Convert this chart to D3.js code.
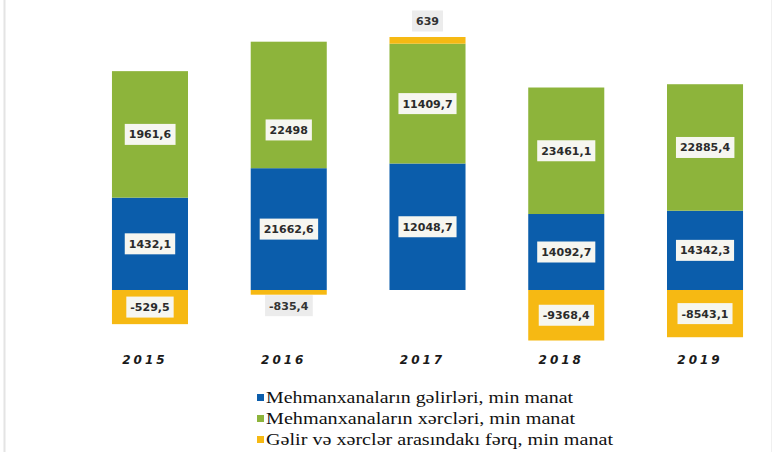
<!DOCTYPE html>
<html><head><meta charset="utf-8">
<script src="https://cdn.jsdelivr.net/npm/d3@7"></script>
<style>body{margin:0;background:#fff}svg{display:block}</style>
</head><body><svg id="c" width="777" height="452"></svg>
<script>
const years = ["2015","2016","2017","2018","2019"];
const income = [1432.1, 21662.6, 12048.7, 14092.7, 14342.3];
const expense = [1961.6, 22498, 11409.7, 23461.1, 22885.4];
const diff = [-529.5, -835.4, 639, -9368.4, -8543.1];
const valueLabels = {
  income: ["1432,1","21662,6","12048,7","14092,7","14342,3"],
  expense: ["1961,6","22498","11409,7","23461,1","22885,4"],
  diff: ["-529,5","-835,4","639","-9368,4","-8543,1"]
};
const seriesNames = ["Mehmanxanaların gəlirləri,  min manat","Mehmanxanaların xərcləri, min manat","Gəlir və xərclər arasındakı fərq, min manat"];
const keys = ["income","expense","diff"];

const colors = {income:"#0b5dab", expense:"#8db43b", diff:"#f6b913"};

const svg = d3.select("#c");
svg.append("line").attr("x1",4.5).attr("x2",4.5).attr("y1",0).attr("y2",452).attr("stroke","#e4e4e4").attr("stroke-width",2);
svg.append("line").attr("x1",771.5).attr("x2",771.5).attr("y1",0).attr("y2",452).attr("stroke","#f0f0f0").attr("stroke-width",1);

const rows = years.map((y,i)=>{
  const tot = Math.abs(income[i])+Math.abs(expense[i])+Math.abs(diff[i]);
  return {year:y, income:income[i]/tot, expense:expense[i]/tot, diff:diff[i]/tot, i};
});
const stack = d3.stack().keys(keys).offset(d3.stackOffsetDiverging)(rows);

const x = d3.scaleBand().domain(years).range([80.6,774.4]).paddingInner(0.452).paddingOuter(0.226);
const y = d3.scaleLinear().domain([0,1]).range([290,37]);

stack.forEach(s=>{
  svg.append("g").selectAll("rect").data(s).join("rect")
    .attr("x",d=>x(d.data.year)).attr("width",x.bandwidth())
    .attr("y",d=>y(Math.max(d[0],d[1]))).attr("height",d=>Math.abs(y(d[0])-y(d[1])))
    .attr("fill",colors[s.key]);
});

// labels
const nudge = {"expense-1":25};
const lab = svg.append("g");
stack.forEach(s=>{
  s.forEach((d,i)=>{
    const cx = x(d.data.year)+x.bandwidth()/2;
    let cy = (y(d[0])+y(d[1]))/2 + (nudge[s.key+"-"+i]||0);
    let boxFill = "#f6f6f0", weight="bold", tcol="#2b2b2b";
    const h = Math.abs(y(d[0])-y(d[1]));
    if (s.key==="diff" && h<15){
      boxFill="#ececec"; tcol="#333";
      if (d[1]>0) cy = y(Math.max(d[0],d[1])) - 16; else cy = y(Math.min(d[0],d[1])) + 11;
    }
    const g = lab.append("g");
    const t = g.append("text").attr("x",cx).attr("y",cy).attr("dy","0.36em")
      .attr("text-anchor","middle").attr("font-family","DejaVu Sans").attr("font-size",11)
      .attr("font-weight",weight).attr("fill",tcol).text(valueLabels[s.key][i]);
    const bb = t.node().getBBox();
    g.insert("rect","text").attr("x",bb.x-4).attr("y",cy-10.5).attr("width",bb.width+8).attr("height",21).attr("fill",boxFill);
  });
});

// x axis labels
svg.append("g").selectAll("text").data(years).join("text")
  .attr("x",d=>x(d)+x.bandwidth()/2-5).attr("y",364)
  .attr("text-anchor","middle").attr("font-family","DejaVu Sans").attr("font-size",12)
  .attr("font-weight","bold").attr("font-style","italic").attr("letter-spacing",3).attr("fill","#1a1a1a").text(d=>d);

// legend
const legY = [398,419,440];
const legW = [307,309,347];
keys.forEach((k,i)=>{
  svg.append("rect").attr("x",257).attr("y",legY[i]-4).attr("width",7).attr("height",7).attr("fill",colors[k]);
  svg.append("text").attr("x",266).attr("y",legY[i]+5).style("font-family","'Liberation Serif','DejaVu Serif',serif").attr("font-size",17)
    .attr("fill","#111").attr("textLength",legW[i]).attr("lengthAdjust","spacingAndGlyphs").text(seriesNames[i]);
});
</script></body></html>
